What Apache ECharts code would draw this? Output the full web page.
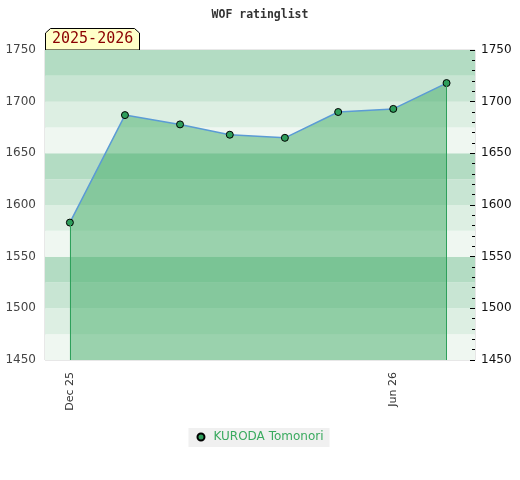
<!DOCTYPE html>
<html><head><meta charset="utf-8">
<script src="https://cdn.jsdelivr.net/npm/echarts@6/dist/echarts.min.js"></script>
<style>html,body{margin:0;padding:0;background:#fff}#c{width:520px;height:480px}</style>
</head><body><div id="c"></div>
<script>
const titleText = 'WOF ratinglist';
const seasonText = '2025-2026';
const seriesName = 'KURODA Tomonori';
const dates = ['2025-12-01','2026-01-01','2026-02-01','2026-03-01','2026-04-01','2026-05-01','2026-06-01','2026-07-01'];
const ratings = [1583, 1687, 1678, 1668, 1665, 1690, 1693, 1718];
const xLabelDates = ['2025-12-01','2026-06-01'];
const xLabelTexts = ['Dec 25','Jun 26'];
const xRange = ['2025-11-17','2026-07-17'];
const yMin = 1450, yMax = 1750;

function ts(s){const p=s.split('-').map(Number);return Date.UTC(p[0],p[1]-1,p[2]);}
const labelMap = {};
xLabelDates.forEach((d,i)=>{labelMap[ts(d)] = xLabelTexts[i];});
const data = dates.map((d,i)=>[ts(d), ratings[i]]);
const last = data.length-1;

const chart = echarts.init(document.getElementById('c'), null, {renderer:'canvas'});
chart.setOption({
  animation:false,
  backgroundColor:'#fff',
  title:{text:titleText,left:'center',top:4,textStyle:{fontFamily:'DejaVu Sans Mono',fontWeight:'bold',fontSize:11.5,color:'#333'}},
  grid:{left:45,right:45,top:50,bottom:120,show:true,borderColor:'#d0d0d0',borderWidth:1,backgroundColor:'transparent'},
  legend:{top:428,left:'center',backgroundColor:'#f0f0f0',padding:[3,6,4,8],itemWidth:7,itemHeight:7,itemGap:10,icon:'circle',
    textStyle:{color:'#3aaa5f',fontFamily:'DejaVu Sans',fontSize:12,padding:[0,0,0,4]},data:[seriesName]},
  xAxis:{type:'value',min:ts(xRange[0]),max:ts(xRange[1]),
    axisLine:{show:false},axisTick:{show:false},splitLine:{show:false},
    axisLabel:{customValues:xLabelDates.map(ts),rotate:90,color:'#333',fontFamily:'DejaVu Sans',fontSize:11,margin:12,
      formatter:function(v){return labelMap[v]||'';}}},
  yAxis:[
    {type:'value',min:yMin,max:yMax,interval:25,position:'left',
     axisLine:{show:false},axisTick:{show:false},splitLine:{show:false},
     splitArea:{show:true,areaStyle:{color:['#eff7f1','#ddefe3','#c8e5d3','#b3dcc3']}},
     axisLabel:{color:'#444',fontFamily:'DejaVu Sans',fontSize:12,margin:9,formatter:function(v){return v%50===0?String(v):'';}}},
    {type:'value',min:yMin,max:yMax,interval:50,position:'right',
     axisLine:{show:false},splitLine:{show:false},
     axisTick:{show:true,inside:true,length:5,lineStyle:{color:'#000'}},
     minorTick:{show:true,splitNumber:5,length:3,lineStyle:{color:'#000'}},
     axisLabel:{color:'#111',fontFamily:'DejaVu Sans',fontSize:12,margin:6,formatter:function(v){return String(v);}}}
  ],
  series:[{
    name:seriesName,type:'line',yAxisIndex:0,data:data,
    symbol:'circle',symbolSize:7,
    itemStyle:{color:'#2e9e5b',borderColor:'#000',borderWidth:1},
    lineStyle:{color:'#5b9bd5',width:1.5},
    areaStyle:{color:'rgb(60,170,98)',opacity:0.48},
    markLine:{silent:true,symbol:'none',label:{show:false},lineStyle:{color:'#2ea05b',width:1,type:'solid'},
      data:[[{coord:data[0]},{coord:[data[0][0],yMin]}],[{coord:data[last]},{coord:[data[last][0],yMin]}]]}
  }],
  graphic:[{type:'group',left:45,top:28,children:[
    {type:'polygon',shape:{points:[[0.5,22],[0.5,5],[5.5,0.5],[89.5,0.5],[94.5,5],[94.5,22]]},style:{fill:'#ffffc8',stroke:'#000',lineWidth:1}},
    {type:'text',x:7,y:4,style:{text:seasonText,fill:'#8b0000',font:'15px "DejaVu Sans Mono"'}}
  ]}]
});
</script></body></html>
